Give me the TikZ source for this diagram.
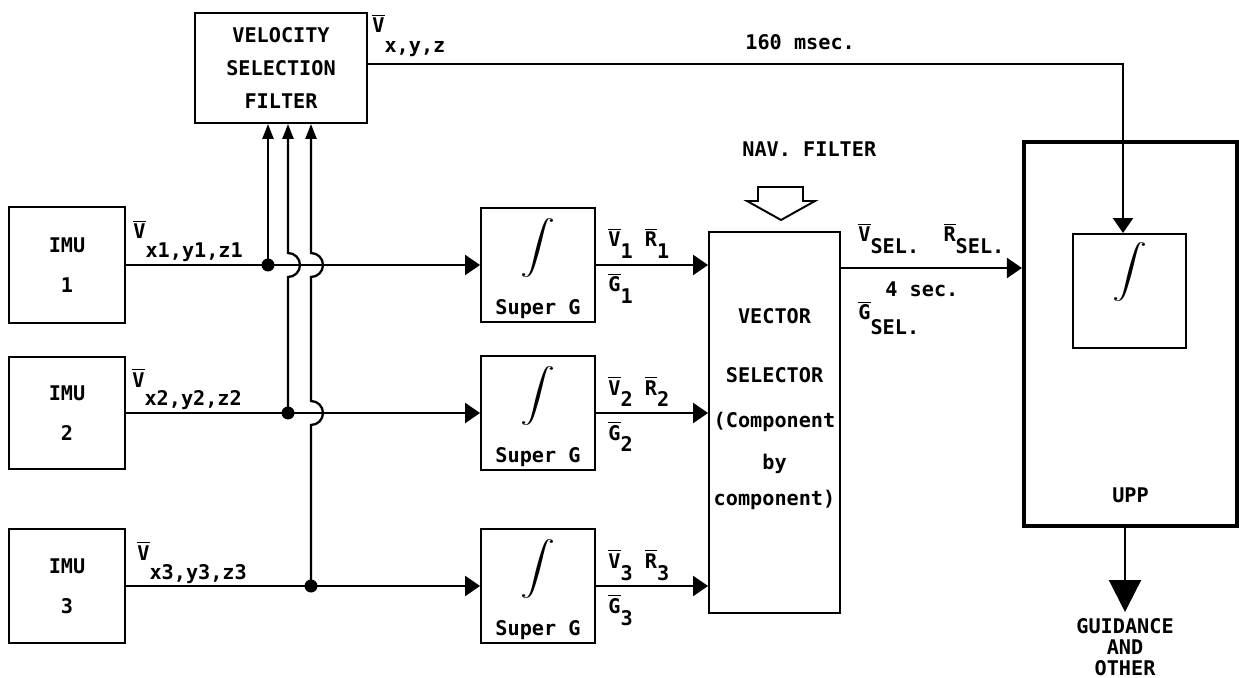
\documentclass[tikz,border=0pt]{standalone}
\usepackage{fontspec}
\setmonofont{DejaVu Sans Mono}
\usetikzlibrary{arrows.meta, positioning, calc}

\newcommand{\intg}{\resizebox*{0.7cm}{1.18cm}{$\displaystyle\int$}}
\newcommand{\vb}[3][0.24cm]{$\overline{\mbox{#2}}$\raisebox{-#1}{#3}}

\begin{document}
\begin{tikzpicture}[
    x=0.02cm, y=-0.02cm,
    font=\fontsize{11.5}{14}\selectfont\ttfamily\bfseries,
    blk/.style={draw, line width=1.1pt, inner sep=1pt, align=center},
    ln/.style={line width=1.3pt},
    fl/.style={ln, -{Triangle[length=0.3cm, width=0.4cm]}},
    upfl/.style={ln, -{Triangle[length=0.3cm, width=0.22cm]}},
    dot/.style={circle, fill, inner sep=0pt, minimum size=0.26cm},
    isym/.style={inner sep=0pt},
    lab/.style={anchor=base west, inner sep=0pt}
  ]
    \useasboundingbox (0,0) rectangle (1239,678);
    % ---- filter and IMUs ----
    \node[blk, minimum width=3.44cm, minimum height=2.2cm] (vsf) at (281,68)
      {VELOCITY\\[5pt]SELECTION\\[5pt]FILTER};
    \node[blk, minimum width=2.32cm, minimum height=2.32cm] (imu1) at (67,265) {IMU\\[8.7pt]1};
    \node[blk, minimum width=2.32cm, minimum height=2.24cm] (imu2) at (67,413) {IMU\\[8.7pt]2};
    \node[blk, minimum width=2.32cm, minimum height=2.28cm] (imu3) at (67,586) {IMU\\[8.7pt]3};
    % ---- Super G integrators ----
    \node[blk, minimum width=2.28cm, minimum height=2.28cm] (sg1) at (538,265) {};
    \node[blk, minimum width=2.28cm, minimum height=2.28cm] (sg2) at (538,413) {};
    \node[blk, minimum width=2.28cm, minimum height=2.28cm] (sg3) at (538,586) {};
    \node[isym] (int1) at ([yshift=0.34cm]sg1.center) {\intg};
    \node[isym] (int2) at ([yshift=0.34cm]sg2.center) {\intg};
    \node[isym] (int3) at ([yshift=0.34cm]sg3.center) {\intg};
    \node[anchor=base] (sup1) at ([yshift=0.17cm]sg1.south) {Super G};
    \node[anchor=base] (sup2) at ([yshift=0.17cm]sg2.south) {Super G};
    \node[anchor=base] (sup3) at ([yshift=0.17cm]sg3.south) {Super G};
    % ---- selector and UPP ----
    \node[blk, minimum width=2.62cm, minimum height=7.62cm] (vs) at (774.5,422.5) {};
    \node[align=center, inner sep=0pt] (vst) at (774.5,409)
      {VECTOR\\[19.5pt]SELECTOR\\[11.5pt](Component\\[9.8pt]by\\[6.4pt]component)};
    \node[blk, line width=2.4pt, minimum width=4.26cm, minimum height=7.68cm] (upp) at (1130.5,334) {};
    \node[blk, minimum width=2.26cm, minimum height=2.28cm] (upi) at (1129.5,291) {};
    \node[isym] (int4) at ([yshift=0.38cm]upi.center) {\intg};
    \node (uppt) at ([yshift=0.66cm]upp.south) {UPP};
    \node[anchor=north, align=center] (gd) at (1125,612) {GUIDANCE\\[-2pt]AND\\[-2pt]OTHER};
    \node[lab] (nav) at (742,157) {NAV. FILTER};
    \draw[line width=1.1pt] (758,187) -- (803,187) -- (803,201) -- (815,201) -- (781,220)
      -- (747,201) -- (758,201) -- cycle;
    % ---- junctions ----
    \node[dot] (j1) at (268,265) {};
    \node[dot] (j2) at (288,413) {};
    \node[dot] (j3) at (311,586) {};
    % ---- labels ----
    \node[lab] (lvf) at (372,33) {\vb[0.4cm]{V}{x,y,z}};
    \node[lab] (l160) at (745,50) {160 msec.};
    \node[lab] (li1) at (133,239) {\vb[0.38cm]{V}{x1,y1,z1}};
    \node[lab] (li2) at (132,387) {\vb[0.38cm]{V}{x2,y2,z2}};
    \node[lab] (li3) at (137,560) {\vb[0.38cm]{V}{x3,y3,z3}};
    \node[lab] (lo1) at (608,247) {\vb{V}{1} \vb{R}{1}};
    \node[lab] (lg1) at (608,292) {\vb{G}{1}};
    \node[lab] (lo2) at (608,395) {\vb{V}{2} \vb{R}{2}};
    \node[lab] (lg2) at (608,440) {\vb{G}{2}};
    \node[lab] (lo3) at (608,568) {\vb{V}{3} \vb{R}{3}};
    \node[lab] (lg3) at (608,613) {\vb{G}{3}};
    \node[lab] (lsel) at (858,242) {\vb{V}{SEL.}\ \ \vb{R}{SEL.}};
    \node[lab] (l4s) at (885,297) {4 sec.};
    \node[lab] (lgs) at (858,320) {\vb[0.3cm]{G}{SEL.}};
    % ---- connectors ----
    \draw[fl] (imu1) -- (sg1);
    \draw[fl] (imu2) -- (sg2);
    \draw[fl] (imu3) -- (sg3);
    \draw[upfl] (j1.center) -- (j1 |- vsf.south);
    \draw[upfl] (j2.center) -- (288,277) arc[start angle=-90, end angle=90, radius=0.24cm]
      -- (j2 |- vsf.south);
    \draw[upfl] (j3.center) -- (311,425) arc[start angle=-90, end angle=90, radius=0.24cm]
      -- (311,277) arc[start angle=-90, end angle=90, radius=0.24cm] -- (j3 |- vsf.south);
    \draw[fl] (sg1.east) -- (sg1.east -| vs.west);
    \draw[fl] (sg2.east) -- (sg2.east -| vs.west);
    \draw[fl] (sg3.east) -- (sg3.east -| vs.west);
    \draw[fl] ([yshift=-0.06cm]sg1.east -| vs.east) -- ([yshift=-0.06cm]sg1.east -| upp.west);
    \draw[fl] ([yshift=0.08cm]vsf.east) -| ([xshift=-0.13cm]upi.north);
    \draw[ln, -{Triangle[length=0.64cm, width=0.64cm]}] (upp.south -| gd.north) -- (gd.north);
\end{tikzpicture}
\end{document}
